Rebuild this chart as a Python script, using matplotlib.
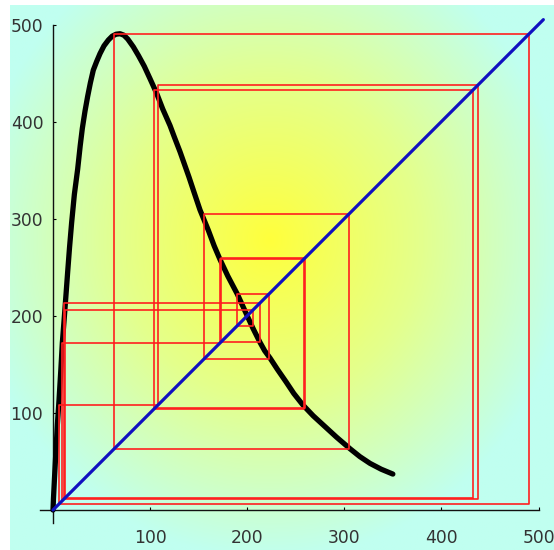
import numpy as np
import matplotlib
matplotlib.use('Agg')
import matplotlib.pyplot as plt
from matplotlib.colors import LinearSegmentedColormap

# map curve
curve_x = [0, 0.5, 1.5, 3.1, 4.5, 6.2, 8, 9.6, 11, 12.3, 13.7, 15.1, 17, 19.2,
           22, 25.4, 28, 30.2, 33, 35.7, 38.5, 41.5, 45, 48.4, 52.5, 57, 61,
           65, 69, 73, 77, 82.7, 88, 94, 100, 106.8, 113, 120.5, 125, 130.8,
           140, 145, 151.4, 160, 166, 172, 180, 190, 200, 206, 213, 218,
           223.5, 231, 240, 248, 257.5, 268, 280, 292, 306, 316, 326.5, 338,
           350]
curve_y = [0, 12, 32, 62, 88, 113, 143, 172, 190, 207, 226, 245, 270, 296,
           325, 351, 375, 393, 411, 426, 440, 453, 462, 470, 478, 484, 488,
           490, 490.5, 489, 485, 477, 468, 457, 444, 429, 413, 396, 384, 369,
           343, 328, 309, 288, 272, 258, 241, 222, 200, 187, 173, 164,
           156.5, 145, 132, 120, 108, 97, 86, 75, 63, 55, 48, 42,
           37]

# cobweb iterates
orbit = [9, 172, 258, 104, 433, 12, 206, 190, 222, 155, 305, 63, 490, 6, 108,
         438, 11, 213, 173.5, 259.5, 105.5]

diag = [0, 505]
ticks = [100, 200, 300, 400, 500]

W, H = 554, 550
fig = plt.figure(figsize=(W / 100, H / 100), dpi=100)

# background gradient
bg = fig.add_axes([10 / W, 0, (W - 10) / W, 545 / H])
gx, gy = np.meshgrid(np.linspace(10, W, 300), np.linspace(5, H, 300))
d = np.sqrt(((gx - 270) / 300.0) ** 2 + ((gy - 240) / 320.0) ** 2)
d = np.clip(d, 0, 1)
cmap = LinearSegmentedColormap.from_list('bg', ['#ffff3c', '#e4ff8c', '#c0fff0'])
bg.imshow(d, cmap=cmap, vmin=0, vmax=1, aspect='auto', interpolation='bilinear')
bg.set_axis_off()

# main axes, pixel-placed so that 0 sits at (53, 510)
sc = 0.971
x0, y0 = 53, 510
lo, hi = -15, 510
size = (hi - lo) * sc
ax = fig.add_axes([(x0 + lo * sc) / W, (H - (y0 - lo * sc)) / H, size / W, size / H])
ax.patch.set_visible(False)
ax.set_xlim(lo, hi)
ax.set_ylim(lo, hi)

# build cobweb path
cx = [orbit[0]]
cy = [orbit[0]]
for a, b in zip(orbit[:-1], orbit[1:]):
    cx += [a, b]
    cy += [b, b]

ax.plot(curve_x, curve_y, color='black', lw=3.8, solid_capstyle='round',
        solid_joinstyle='round', zorder=3)
ax.plot(cx, cy, color='#ff2020', lw=1.2, zorder=4)
ax.plot(diag, diag, color='#1010c0', lw=2.3, solid_capstyle='round', zorder=5)

for s in ['top', 'right']:
    ax.spines[s].set_visible(False)
ax.spines['left'].set_position(('data', 0))
ax.spines['bottom'].set_position(('data', 0))
ax.spines['left'].set_bounds(-13, 500)
ax.spines['bottom'].set_bounds(-13, 501)
for s in ['left', 'bottom']:
    ax.spines[s].set_linewidth(1.0)
    ax.spines[s].set_color('#111111')

ax.set_xticks(ticks)
ax.set_yticks(ticks)
ax.set_xticklabels([str(t) for t in ticks])
ax.set_yticklabels([str(t) for t in ticks])
ax.tick_params(axis='x', direction='in', length=2.5, width=0.8, pad=14,
               labelsize=12.3, labelcolor='#333333')
ax.tick_params(axis='y', direction='in', length=2.5, width=0.8, pad=7,
               labelsize=12.3, labelcolor='#333333')

fig.savefig('out.png', dpi=100)
